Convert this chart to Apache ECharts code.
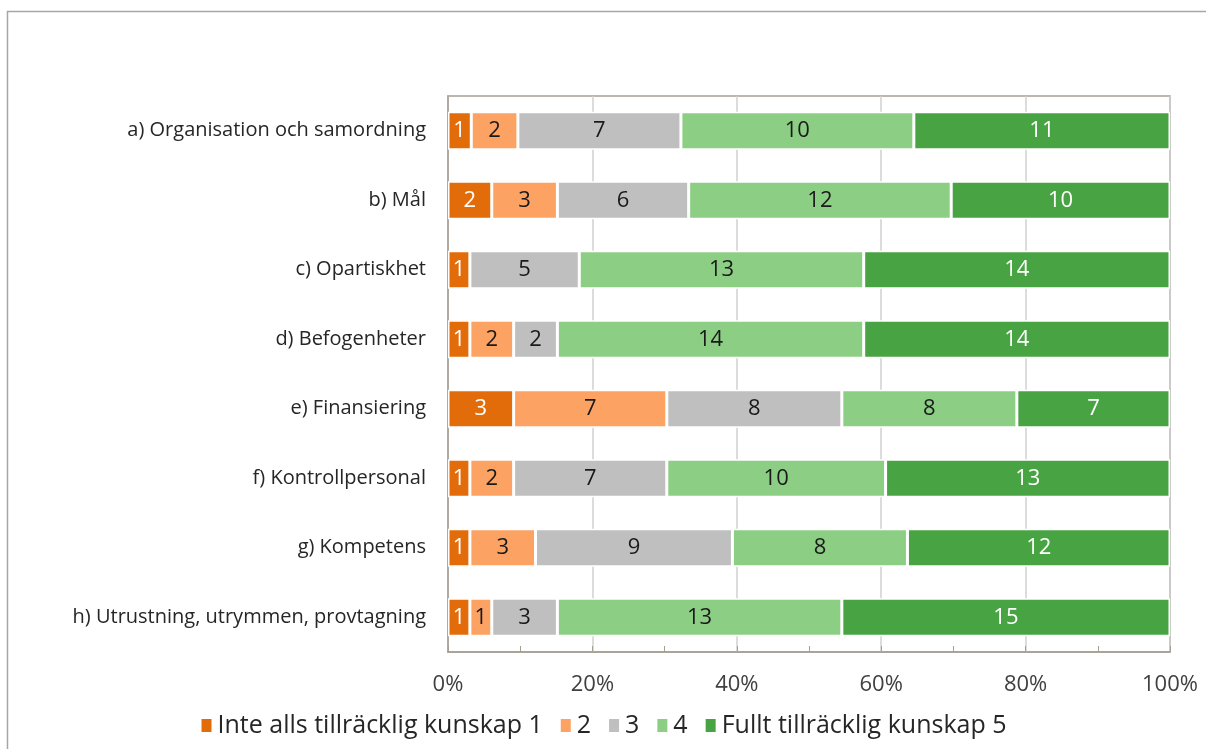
<!DOCTYPE html>
<html>
<head>
<meta charset="utf-8">
<script src="https://cdn.jsdelivr.net/npm/echarts@6/dist/echarts.min.js"></script>
<style>
  html, body { margin: 0; padding: 0; background: #fff; }
  #content { width: 1206px; height: 749px; }
</style>
</head>
<body>
<div id="content"></div>
<script>
var categories = [
    'a) Organisation och samordning',
    'b) Mål',
    'c) Opartiskhet',
    'd) Befogenheter',
    'e) Finansiering',
    'f) Kontrollpersonal',
    'g) Kompetens',
    'h) Utrustning, utrymmen, provtagning'
];
var seriesNames = ['Inte alls tillräcklig kunskap 1', '2', '3', '4', 'Fullt tillräcklig kunskap 5'];
var level1 = [1, 2, 1, 1, 3, 1, 1, 1];
var level2 = [2, 3, 0, 2, 7, 2, 3, 1];
var level3 = [7, 6, 5, 2, 8, 7, 9, 3];
var level4 = [10, 12, 13, 14, 8, 10, 8, 13];
var level5 = [11, 10, 14, 14, 7, 13, 12, 15];
var colors = ['#E36C0A', '#FCA262', '#BFBFBF', '#8CCF84', '#48A443'];
var labelColors = ['#ffffff', '#1a1a1a', '#1a1a1a', '#1a1a1a', '#ffffff'];

var levels = [level1, level2, level3, level4, level5];
var totals = categories.map(function (c, i) {
    return levels.reduce(function (s, l) { return s + l[i]; }, 0);
});

var myChart = echarts.init(document.getElementById('content'));

var series = levels.map(function (lvl, k) {
    return {
        name: seriesNames[k],
        type: 'bar',
        stack: 'total',
        barWidth: '55%',
        itemStyle: { color: colors[k], borderColor: '#ffffff', borderWidth: 1.5 },
        label: {
            show: true,
            color: labelColors[k],
            fontSize: 22,
            fontFamily: 'Open Sans',
            formatter: function (p) {
                var v = lvl[p.dataIndex];
                return v > 0 ? String(v) : '';
            }
        },
        data: lvl.map(function (v, i) { return v / totals[i] * 100; })
    };
});

var option = {
    animation: false,
    graphic: [{
        type: 'rect',
        shape: { x: 7.5, y: 11.5, width: 1300, height: 800 },
        style: { fill: 'none', stroke: '#a6a6a6', lineWidth: 1.5 },
        silent: true
    }],
    grid: {
        left: 448, right: 36, top: 96, bottom: 97,
        show: true, borderColor: '#a59f94', borderWidth: 1.5
    },
    legend: {
        bottom: 6,
        left: 'center',
        itemWidth: 12,
        itemHeight: 15,
        itemGap: 16,
        icon: 'rect',
        textStyle: { fontSize: 25, color: '#262626', fontFamily: 'Open Sans' },
        data: seriesNames
    },
    xAxis: {
        type: 'value',
        min: 0,
        max: 100,
        interval: 20,
        axisLine: { show: true, lineStyle: { color: '#a59f94', width: 1.5 } },
        axisTick: { show: true, inside: true, length: 6, lineStyle: { color: '#a59f94' } },
        minorTick: { show: true, splitNumber: 2, length: 6, lineStyle: { color: '#a59f94' } },
        splitLine: { show: true, lineStyle: { color: '#d0d0d0', width: 1.5 } },
        axisLabel: {
            formatter: '{value}%',
            fontSize: 22,
            color: '#404040',
            fontFamily: 'Open Sans',
            margin: 22
        }
    },
    yAxis: {
        type: 'category',
        inverse: true,
        data: categories,
        axisLine: { show: true, lineStyle: { color: '#a59f94', width: 1.5 } },
        axisTick: { show: false },
        axisLabel: { fontSize: 20, color: '#262626', fontFamily: 'Open Sans', margin: 22 }
    },
    series: series
};
myChart.setOption(option);
</script>
</body>
</html>
